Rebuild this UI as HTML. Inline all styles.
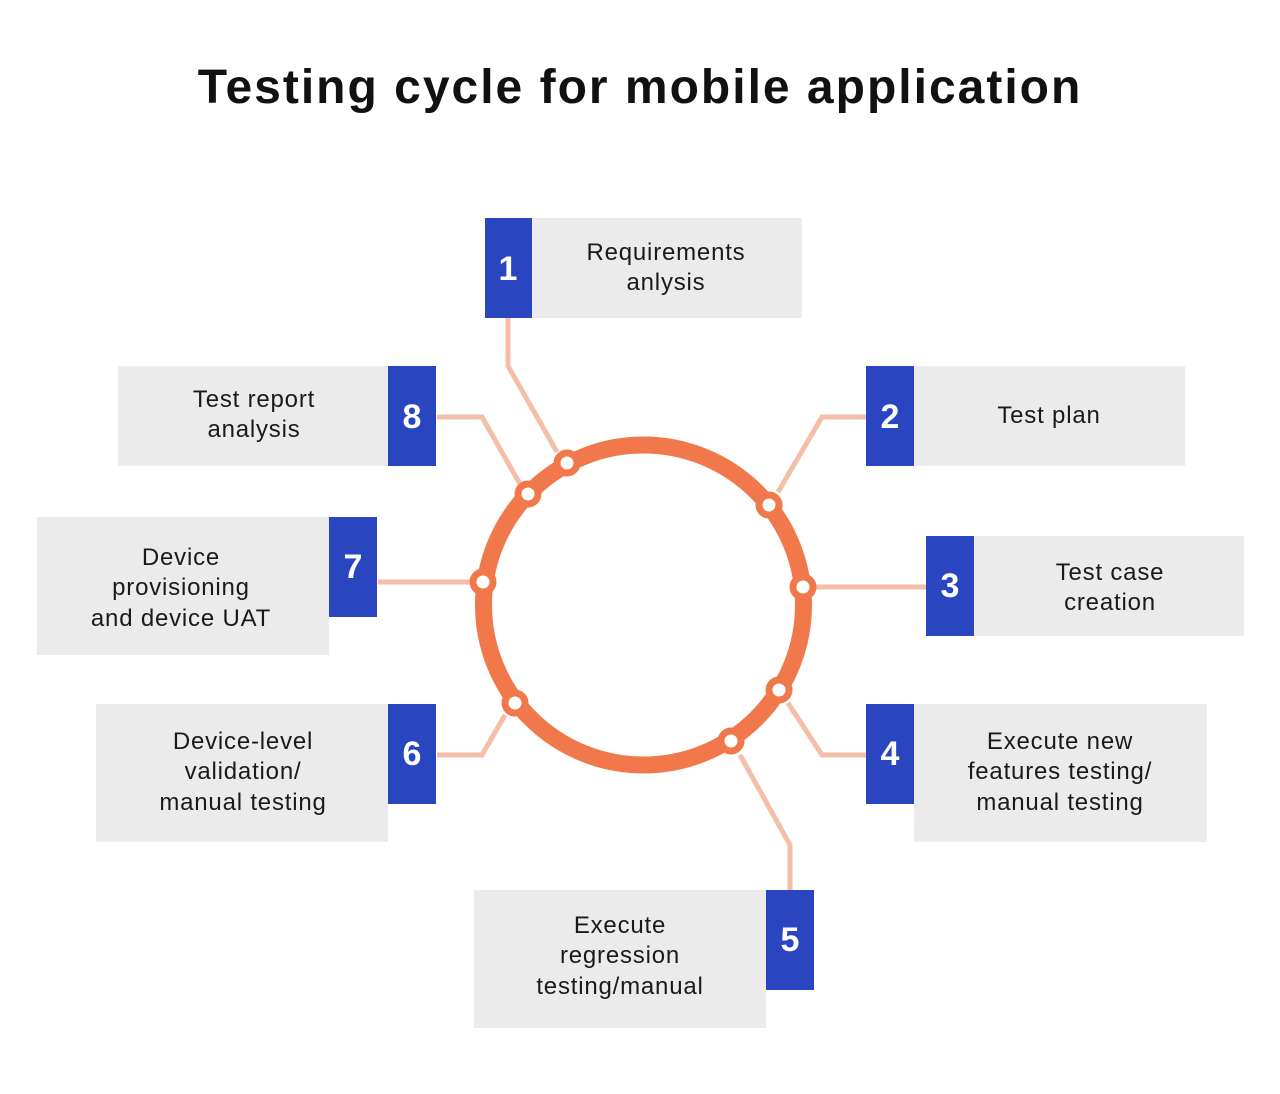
<!DOCTYPE html>
<html><head><meta charset="utf-8"><style>
html,body{margin:0;padding:0;background:#fff;}
svg{display:block}
text{font-family:"Liberation Sans",sans-serif;}
.t{font-size:24px;fill:#1a1a1a;text-anchor:middle;letter-spacing:0.8px}
.n{font-size:34px;font-weight:bold;fill:#fff;text-anchor:middle}
</style></head><body>
<svg width="1280" height="1094" viewBox="0 0 1280 1094" xmlns="http://www.w3.org/2000/svg">
<rect width="1280" height="1094" fill="#fff"/>
<text x="640" y="103" font-size="48" font-weight="bold" text-anchor="middle" fill="#111" letter-spacing="2">Testing cycle for mobile application</text>
<g fill="none" stroke="#f4bea8" stroke-width="5">
<polyline points="508,318 508,366 557,452"/>
<polyline points="437,417 482,417 520,484"/>
<polyline points="866,417 822,417 778,492"/>
<polyline points="803,587 926,587"/>
<polyline points="788,703 822,755 866,755"/>
<polyline points="740,755 790,845 790,890"/>
<polyline points="505,715 482,755 437,755"/>
<polyline points="483,582 378,582"/>
</g>
<circle cx="643.5" cy="605" r="160" fill="none" stroke="#f0784a" stroke-width="17"/>
<g fill="#fff" stroke="#f0784a" stroke-width="7">
<circle cx="567" cy="463" r="10"/><circle cx="528" cy="494" r="10"/>
<circle cx="769" cy="505" r="10"/><circle cx="803" cy="587" r="10"/>
<circle cx="779" cy="690" r="10"/><circle cx="731" cy="741" r="10"/>
<circle cx="515" cy="703" r="10"/><circle cx="483" cy="582" r="10"/>
</g>
<g fill="#ebebeb">
<rect x="532" y="218" width="270" height="100"/>
<rect x="118" y="366" width="270" height="100"/>
<rect x="914" y="366" width="271" height="100"/>
<rect x="37" y="517" width="292" height="138"/>
<rect x="974" y="536" width="270" height="100"/>
<rect x="96" y="704" width="292" height="138"/>
<rect x="914" y="704" width="293" height="138"/>
<rect x="474" y="890" width="292" height="138"/>
</g>
<g fill="#2a45c0">
<rect x="485" y="218" width="47" height="100"/>
<rect x="388" y="366" width="48" height="100"/>
<rect x="866" y="366" width="48" height="100"/>
<rect x="329" y="517" width="48" height="100"/>
<rect x="926" y="536" width="48" height="100"/>
<rect x="388" y="704" width="48" height="100"/>
<rect x="866" y="704" width="48" height="100"/>
<rect x="766" y="890" width="48" height="100"/>
</g>
<g class="n">
<text x="508" y="280">1</text><text x="412" y="428">8</text><text x="890" y="428">2</text>
<text x="353" y="578">7</text><text x="950" y="597">3</text><text x="412" y="765">6</text>
<text x="890" y="765">4</text><text x="790" y="951">5</text>
</g>
<g class="t">
<text x="666" y="260">Requirements</text><text x="666" y="290">anlysis</text>
<text x="254" y="407">Test report</text><text x="254" y="437">analysis</text>
<text x="1049" y="423">Test plan</text>
<text x="181" y="565">Device</text><text x="181" y="595">provisioning</text><text x="181" y="626">and device UAT</text>
<text x="1110" y="580">Test case</text><text x="1110" y="610">creation</text>
<text x="243" y="749">Device-level</text><text x="243" y="779">validation/</text><text x="243" y="810">manual testing</text>
<text x="1060" y="749">Execute new</text><text x="1060" y="779">features testing/</text><text x="1060" y="810">manual testing</text>
<text x="620" y="933">Execute</text><text x="620" y="963">regression</text><text x="620" y="994">testing/manual</text>
</g>
</svg>
</body></html>
